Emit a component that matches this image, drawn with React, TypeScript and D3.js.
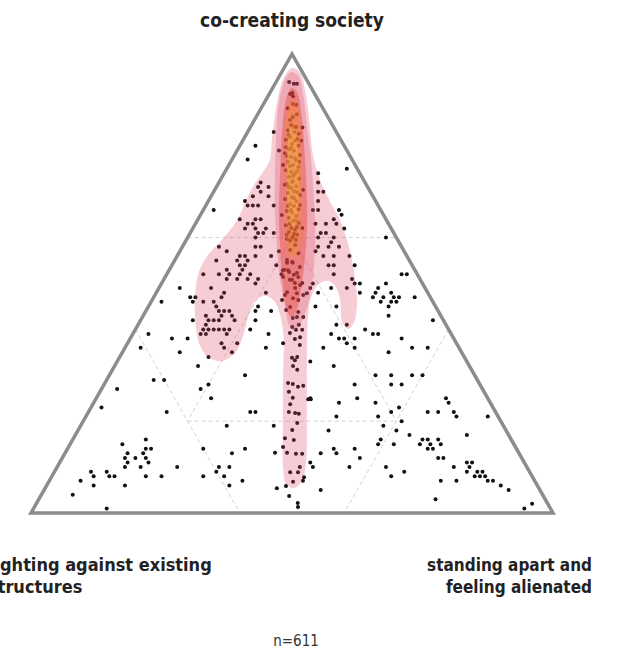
import React from "react";
import * as d3 from "d3";

// Each respondent: [co-creating society, fighting against existing structures, standing apart and feeling alienated] in %
type T = [number, number, number];

const cornerTop = "co-creating society";
const cornerLeft = ["fighting against existing", "structures"];
const cornerRight = ["standing apart and", "feeling alienated"];
const sampleNote = "n=611";

// partition grid: full lines at 60%, inner triangle at 20%
const outerShare = 60;
const innerShare = 20;

const columnTop: T[] = [
  [93.9,3.6,2.5],[93.5,2.9,3.6],[93.5,2.3,4.2],[91.5,4.2,4.3],[91.3,4.7,4.0],[90.8,4.4,4.8],[88.2,6.7,5.1],[89.1,5.3,5.6],[88.9,4.8,6.3],[86.9,5.6,7.5],[86.3,6.7,7.0],[85.6,7.6,6.8],
  [84.5,7.9,7.6],[84.1,7.2,8.7],[83.4,9.1,7.5],[83.0,8.1,8.9],[82.6,7.4,10.0],[81.9,9.4,8.7],[81.3,10.5,8.2],[81.1,8.9,10.0],[80.4,9.8,9.8],[80.0,8.8,11.2],[79.3,10.9,9.8],[78.9,10.2,10.9],[78.4,12.1,9.5],[78.0,9.5,12.5],[77.6,11.4,11.0],[76.9,10.8,12.3],[76.5,12.5,11.0],[75.8,11.9,12.3],[75.4,11.1,13.5],[74.7,13.8,11.5],[74.3,13.0,12.7],[73.9,12.5,13.6],[73.2,14.0,12.8],[72.8,12.3,14.9],[72.3,13.7,14.0],[71.7,15.1,13.2],[71.2,13.6,15.2],[70.8,14.8,14.4],[70.1,14.6,15.3],[69.7,15.9,14.4],[69.3,13.8,16.9],[68.8,15.6,15.6],[68.4,17.1,14.5],[68.0,15.2,16.8],[67.3,16.7,16.0],[66.9,16.2,16.9],[66.2,15.7,18.1],[65.8,18.1,16.1],[65.4,17.3,17.3],[64.7,16.9,18.4],[64.3,18.4,17.3],[63.6,18.0,18.4],[63.2,17.1,19.7],[62.7,19.8,17.5],[62.1,19.1,18.8],[61.7,18.6,19.7],[61.2,20.0,18.8],[60.6,18.7,20.7],[60.1,19.9,20.0],[59.7,21.1,19.2],[81.1,7.7,11.2],[75.8,13.8,10.4],[70.4,12.7,16.9],[64.9,19.5,15.6],[62.1,17.0,20.9],
  [84.1,7.8,8.1],[82.4,9.4,8.2],[81.5,8.3,10.2],[79.5,10.4,10.1],[77.8,12.1,10.1],[77.3,10.8,11.9],[75.6,12.6,11.8],[74.5,11.8,13.7],[73.4,13.1,13.5],[71.0,15.1,13.9],[69.9,14.1,16.0],[68.6,15.3,16.1],[66.9,17.3,15.8],[66.0,17.2,16.8],[63.8,17.5,18.7],[63.0,18.9,18.1],[62.3,17.9,19.8],[60.8,19.2,20.0],[59.3,20.7,20.0],[59.5,19.5,21.0],[71.5,15.6,12.9],[67.1,14.9,18.0],[79.7,11.3,9.0],[76.5,10.4,13.1],[72.1,13.9,14.0],
];

const topScatter: T[] = [
  [83,12,5],[84,6,10],[79,13,8],[80,17,3],[77,20,3],[75,2,23],[74,8,18],[72,9,19],[70,10,20],[70,9,21],[68,11,21],[66,13,21],[66,12,22],[66,8,26],[65,8,27],[63,12,25],[63,14,23],[64,10,26],[63,10,27],[61,14,25],[62,9,29],[60,2,38],[71,21,8],[72,20,8],[71,19,10],[69,23,8],[70,21,9],[69,20,11],[68,25,7],[67,25,8],[67,24,9],[67,23,10],[67,20,13],[66,32,2],[64,28,8],[64,25,11],[64,24,12],[63,27,10],[63,26,11],[62,26,12],[62,28,10],[62,24,14],[61,26,13],[61,23,16],
];

const leftLobe: T[] = [
  [60,27,13],[58,35,7],[57,34,9],[55,37,8],[56,32,12],[55,33,12],[55,31,14],[56,29,15],[58,27,15],[56,26,18],[57,24,19],[54,26,20],
  [52,41,7],[52,38,10],[53,36,11],[52,36,12],[51,37,12],[51,35,14],[52,32,16],[51,31,18],[54,33,13],[54,32,14],
  [56,31,13],[58,28,14],[61,25,14],[53,33,14],[52,34,14],[51,33,16],[50,32,18],[52,26,22],[53,25,22],
  [49,41,10],[48,39,13],[47,40,13],[49,47,4],[47,46,7],[46,46,8],[47,45,8],[46,44,10],[46,42,12],[45,42,13],[48,31,21],[45,34,21],[44,32,24],[46,52,2],
  [42,48,10],[43,45,12],[41,46,13],[42,44,14],[40,46,14],[44,42,14],[44,41,15],[43,42,15],[44,40,16],[43,40,17],[42,40,18],[42,45,13],[42,43,15],[40,47,13],[40,45,15],[40,44,16],[40,43,17],[40,42,18],[39,48,13],[39,47,14],[39,43,18],[37,45,18],[36,45,19],[35,44,21],[34,49,17],[37,42,21],[42,36,22],[44,35,21],[40,38,22],[39,35,26],[36,37,27],
  [39,58,3],[36,61,3],[38,54,8],[35,54,11],[38,51,11],[32,52,16],[30,44,26],[29,62,9],[29,60,11],[27,54,19],[28,52,20],[25,53,22],[27,70,3],[23,75,2],[22,63,15],[22,47,31],[22,46,32],[19,44,37],[19,53,28],
];

const bottomLeft: T[] = [
  [15,75,10],[16,70,14],[14,71,15],[14,70,16],[13,75,12],[12,74,14],[13,72,15],[12,76,12],[11,76,13],[12,72,16],[11,72,17],[10,77,13],[10,74,16],[9,81,10],[8,81,11],[8,80,12],[9,84,7],[8,84,8],[7,87,6],[6,85,9],[6,79,15],[8,74,18],[8,71,21],[10,67,23],[14,60,26],[8,63,29],[9,60,31],[10,59,31],[10,57,33],[8,59,33],[6,59,35],[13,55,32],[14,52,34],[7,56,37],[4,90,6],[1,85,14],
];

const lowerColumn: T[] = [
  [54.5,23.7,21.8],[54.7,22.6,22.7],[52.9,25.3,21.8],[52.5,24.3,23.2],[51.9,23.7,24.4],[51.4,23.1,25.5],[50.8,25.0,24.2],[50.1,24.4,25.5],[49.7,23.6,26.7],[47.9,25.1,27.0],[47.5,24.1,28.4],[46.8,26.4,26.8],[46.4,25.6,28.0],[42.5,28.6,28.9],[42.7,27.7,29.6],[41.0,28.2,30.8],[40.5,29.7,29.8],[39.9,28.1,32.0],[39.9,29.3,30.8],[42.7,26.5,30.8],[37.0,33.2,29.8],[36.6,30.2,33.2],
  [60.6,20.7,18.7],[60.1,19.8,20.1],[58.4,20.2,21.4],[57.3,21.7,21.0],[56.6,20.5,22.9],[55.1,23.4,21.5],[54.5,22.6,22.9],[53.6,21.7,24.7],[52.9,24.3,22.8],[52.3,22.9,24.8],[51.4,26.0,22.6],[50.8,24.6,24.6],[50.1,23.0,26.9],[49.0,24.9,26.1],[48.1,26.9,25.0],[47.9,23.2,28.9],[44.9,27.9,27.2],[43.8,26.9,29.3],
  [32.0,33.8,34.2],[31.2,33.4,35.4],[33.8,33.1,33.1],[33.3,32.8,33.9],[28.1,35.8,36.1],[27.5,35.1,37.4],[27.7,34.0,38.3],[28.3,36.6,35.1],[26.4,37.4,36.2],[25.1,37.3,37.6],[24.8,34.5,40.7],[24.8,34.0,41.2],[22.0,39.6,38.4],[21.8,38.5,39.7],[21.6,37.9,40.5],[19.6,39.2,41.2],[16.3,43.2,40.5],[15.9,41.7,42.4],[14.4,44.5,41.1],[13.1,44.4,42.5],[12.9,42.8,44.3],[12.9,41.6,45.5],[13.1,46.7,40.2],[10.0,43.5,46.5],[8.9,45.9,45.2],[8.9,44.4,46.7],[7.8,43.8,48.4],[6.8,46.4,46.8],[5.4,50.2,44.4],[3.7,48.7,47.6],[2.2,47.8,50.0],[1.3,48.2,50.5],[5.9,48.2,45.9],[7.0,44.4,48.6],
  [38.3,29.3,32.4],[23.7,38.5,37.8],[18.1,40.9,41.0],[39.2,30.8,30.0],[37.9,30.5,31.6],[34.0,32.0,34.0],[47.5,27.6,24.9],[46.4,28.7,24.9],[44.2,29.0,26.8],
];

const rightSide: T[] = [
  [61,13,26],[58,16,26],[54,16,30],[51,13,36],[50,13,37],[50,12,38],[48,13,39],[50,21,29],[49,22,29],[45,23,32],[48,21,31],[49,18,33],[45,19,36],[41,21,38],[49,15,36],[41,19,40],[40,16,44],
  [60,15,25],[60,12,28],[58,14,28],[59,13,28],[57,17,26],[58,12,30],[56,16,28],[56,14,30],[56,11,33],[54,11,35],[54,15,31],[52,16,32],[52,3,45],[52,2,46],
  [48,10,42],[47,11,42],[49,9,42],[47,9,44],[50,7,43],[48,7,45],[47,7,46],[46,10,44],[45,9,46],[46,8,46],[46,7,47],[47,6,47],[43,10,47],[47,3,50],[42,2,56],
  [39,23,38],[38,22,40],[38,21,41],[37,21,42],[38,19,43],[39,15,46],[39,14,47],[36,26,38],[36,20,44],[38,10,52],[36,9,55],[36,6,58],[35,14,51],[33,30,37],[32,26,42],[30,19,51],[30,16,54],[30,12,58],[30,10,60],[28,24,48],[28,17,55],[28,15,57],[25,25,50],[25,34,41],[24,29,47],[24,22,54],[21,31,48],[21,23,56],[22,20,58],[23,18,59],[19,23,58],[18,34,48],[20,19,61],[18,21,61],[17,19,64],[16,25,59],[15,26,59],[15,23,62],[14,31,55],[14,35,51],[13,35,52],[13,38,49],[12,31,57],[11,41,48],[10,41,49],[10,34,56],[10,27,63],[9,24,67],[8,27,65],[5,42,53],
];

const rightClusters: T[] = [
  [25,8,67],[24,8,68],[22,13,65],[22,11,67],[22,8,70],[21,8,71],[21,2,77],[17,8,75],[16,17,67],[15,18,67],[16,16,68],[16,14,70],[14,17,69],[15,16,69],[14,16,70],[15,14,71],[12,16,72],[12,15,73],[10,14,76],[7,18,75],[7,15,78],[3,21,76],[11,11,78],[11,10,79],[10,11,79],[9,12,79],[9,10,81],[9,9,82],[8,9,83],[8,11,81],[8,10,82],[7,9,84],[7,8,85],[6,7,87],[5,6,89],[1,5,94],[2,3,95],
];

// density contour outlines (ternary shares), from lowest to highest level
const densityOuter: T[] = [
  [97.0,1.3,1.7],[95.9,0.5,3.6],[92.2,1.4,6.4],[85.6,3.9,10.5],[79.1,6.6,14.3],[75.2,7.8,17.0],[71.5,8.5,20.0],[67.5,8.8,23.7],[63.8,8.9,27.3],[59.5,9.7,30.8],[54.7,11.2,34.2],[49.7,12.9,37.4],[45.3,14.9,39.8],[41.6,17.3,41.1],[40.1,19.2,40.7],[41.6,19.6,38.8],[46.4,17.6,36.0],[49.2,17.0,33.8],[50.6,17.8,31.6],[49.7,20.2,30.1],[46.8,23.0,30.2],[42.1,25.9,32.0],[33.3,30.5,36.2],[20.3,37.0,42.7],[10.5,42.1,47.4],[7.0,44.6,48.4],[5.4,46.9,47.7],[6.3,48.0,45.7],[9.8,46.8,43.4],[20.3,41.6,38.1],[31.2,36.1,32.7],[37.7,32.7,29.6],[42.5,30.9,26.6],[46.0,30.3,23.7],[47.3,31.3,21.4],[46.4,33.7,19.9],[43.6,36.4,20.0],[39.2,39.6,21.2],[35.1,43.2,21.7],[33.1,46.9,20.0],[34.0,49.1,16.9],[37.0,49.3,13.7],[42.1,47.5,10.4],[47.5,44.8,7.7],[52.5,41.6,5.9],[56.2,38.0,5.8],[59.5,33.7,6.8],[63.8,28.6,7.6],[68.2,24.7,7.1],[71.5,21.5,7.0],[74.3,18.4,7.3],[76.9,15.8,7.3],[81.3,13.2,5.5],[86.7,9.9,3.4],[91.7,6.6,1.7],[95.4,3.6,1.0],
];
const densityMid: T[] = [
  [96.1,2.0,1.9],[95.2,1.2,3.6],[91.1,2.3,6.6],[84.5,4.9,10.6],[76.9,7.9,15.2],[68.2,11.7,20.1],[59.5,15.8,24.7],[51.9,20.0,28.1],[45.3,24.3,30.4],[41.0,28.0,31.0],[39.7,29.8,30.5],[41.0,30.1,28.9],[45.3,28.7,26.0],[50.8,26.9,22.3],[57.3,24.2,18.5],[64.9,20.8,14.3],[72.6,17.0,10.4],[81.3,12.4,6.3],[87.8,8.8,3.4],[92.6,5.6,1.8],[95.2,3.4,1.4],
];
const densityHigh: T[] = [
  [92.6,3.7,3.7],[91.7,3.2,5.1],[87.8,4.4,7.8],[81.3,7.1,11.6],[72.6,11.0,16.4],[63.8,15.2,21.0],[55.1,20.0,24.9],[48.6,24.0,27.4],[43.8,27.3,28.9],[42.5,28.8,28.7],[44.2,28.9,26.9],[49.7,26.9,23.4],[57.3,23.6,19.1],[66.0,19.5,14.5],[74.7,14.9,10.4],[83.4,10.2,6.4],[88.9,6.9,4.2],[91.5,5.0,3.5],
];
const densityPeak: T[] = [
  [90.0,4.8,5.2],[88.2,4.7,7.1],[81.3,7.6,11.1],[72.6,11.8,15.6],[63.8,16.2,20.0],[58.4,19.3,22.3],[55.6,21.6,22.8],[56.0,22.4,21.6],[59.5,21.4,19.1],[68.2,17.2,14.6],[76.9,12.9,10.2],[84.5,8.9,6.6],[88.9,6.1,5.0],
];
const densityCore: T[] = [
  [84.5,7.6,7.9],[81.3,8.4,10.3],[74.7,11.3,14.0],[67.1,15.3,17.6],[62.7,18.1,19.2],[62.7,18.8,18.5],[67.1,17.2,15.7],[74.7,13.6,11.7],[81.3,10.1,8.6],[83.9,8.4,7.7],
];

const FONT = "'Liberation Sans Narrow', 'DejaVu Sans Condensed', Roboto, sans-serif";

export default function App() {
  const W = 628, H = 652;
  const xScale = d3.scaleLinear().domain([0, 100]).range([31, 553]);
  const yScale = d3.scaleLinear().domain([0, 100]).range([513, 54]);
  const px = (p: T) => xScale(p[2] + p[0] / 2);
  const py = (p: T) => yScale(p[0]);

  const allPoints = [...columnTop, ...topScatter, ...leftLobe, ...bottomLeft, ...lowerColumn, ...rightSide, ...rightClusters];

  const tri: T[] = [[100, 0, 0], [0, 100, 0], [0, 0, 100]];
  const triLine = d3.line<T>().x(px).y(py).curve(d3.curveLinearClosed);
  const blob = d3.line<T>().x(px).y(py).curve(d3.curveCatmullRomClosed.alpha(0.5));

  const o = outerShare, i = innerShare;
  const gridSegs: [T, T][] = [
    [[o, 100 - o, 0], [o, 0, 100 - o]],
    [[100 - o, o, 0], [0, o, 100 - o]],
    [[100 - o, 0, o], [0, 100 - o, o]],
    [[i, 100 - 2 * i, i], [i, i, 100 - 2 * i]],
    [[100 - 2 * i, i, i], [i, i, 100 - 2 * i]],
    [[100 - 2 * i, i, i], [i, 100 - 2 * i, i]],
  ];

  const layers = [
    { d: densityOuter, fill: "rgb(222,70,100)", op: 0.27 },
    { d: densityMid, fill: "rgb(222,70,100)", op: 0.27 },
    { d: densityHigh, fill: "rgb(228,60,40)", op: 0.38 },
    { d: densityPeak, fill: "rgb(245,140,40)", op: 0.4 },
    { d: densityCore, fill: "rgb(250,200,70)", op: 0.32 },
  ];

  return (
    <svg width={W} height={H} style={{ position: "absolute", left: 0, top: 0, background: "#fff" }}>
      <rect width={W} height={H} fill="#fff" />
      {gridSegs.map((s, k) => (
        <line key={k} x1={px(s[0])} y1={py(s[0])} x2={px(s[1])} y2={py(s[1])}
          stroke="#d2d2d2" strokeWidth={1} strokeDasharray="4,3" />
      ))}
      {allPoints.map((p, k) => (
        <circle key={k} cx={px(p)} cy={py(p)} r={2} fill="#111" />
      ))}
      {layers.map((l, k) => (
        <path key={k} d={blob(l.d) || ""} fill={l.fill} fillOpacity={l.op} stroke="none" />
      ))}
      <path d={triLine(tri) || ""} fill="none" stroke="#8c8c8c" strokeWidth={3.5} strokeLinejoin="miter" />
      <text x={292} y={27} textAnchor="middle" fontFamily={FONT} fontWeight={700} fontSize={19} fill="#222">{cornerTop}</text>
      <text x={-12} y={571} fontFamily={FONT} fontWeight={700} fontSize={18} fill="#222">
        <tspan x={-12}>{cornerLeft[0]}</tspan>
        <tspan x={-12} dy={22}>{cornerLeft[1]}</tspan>
      </text>
      <text x={592} y={571} textAnchor="end" fontFamily={FONT} fontWeight={700} fontSize={17} fill="#222">
        <tspan x={592}>{cornerRight[0]}</tspan>
        <tspan x={592} dy={22}>{cornerRight[1]}</tspan>
      </text>
      <text x={296} y={646} textAnchor="middle" fontFamily={FONT} fontSize={15} fill="#333">{sampleNote}</text>
    </svg>
  );
}
